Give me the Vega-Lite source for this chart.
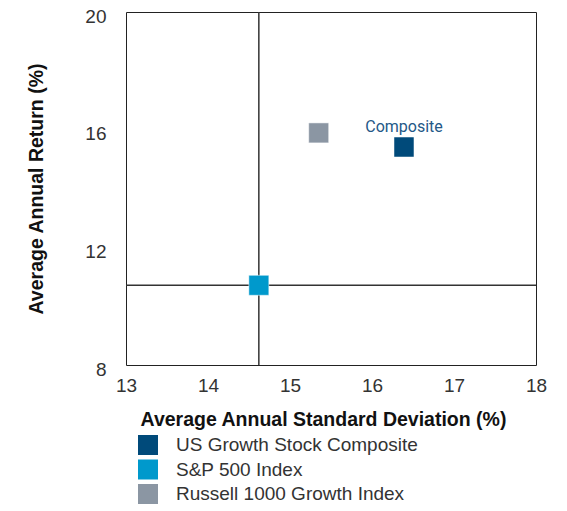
{
  "$schema": "https://vega.github.io/schema/vega-lite/v6.json",
  "width": 410,
  "height": 353,
  "autosize": {"type": "none"},
  "padding": {"left": 126, "top": 12, "right": 31, "bottom": 146},
  "background": "white",
  "config": {
    "view": {"stroke": "#222", "strokeWidth": 1},
    "font": "Liberation Sans",
    "axis": {"grid": false, "ticks": false, "domain": false, "labelFlush": false, "labelFont": "Liberation Sans", "labelFontSize": 19, "labelColor": "#333", "titleFont": "Liberation Sans", "titleFontWeight": "bold", "titleFontSize": 19.5, "titleColor": "#111"}
  },
  "data": {
    "values": [
      {"name": "US Growth Stock Composite", "sd": 16.39, "ret": 15.41, "label": "Composite"},
      {"name": "S&P 500 Index", "sd": 14.62, "ret": 10.71, "label": ""},
      {"name": "Russell 1000 Growth Index", "sd": 15.35, "ret": 15.89, "label": ""}
    ]
  },
  "layer": [
    {
      "transform": [{"filter": "datum.name === 'S&P 500 Index'"}],
      "mark": {"type": "rule", "color": "#333", "strokeWidth": 1.5},
      "encoding": {"x": {"field": "sd", "type": "quantitative"}}
    },
    {
      "transform": [{"filter": "datum.name === 'S&P 500 Index'"}],
      "mark": {"type": "rule", "color": "#333", "strokeWidth": 1.5},
      "encoding": {"y": {"field": "ret", "type": "quantitative"}}
    },
    {
      "mark": {"type": "point", "shape": "square", "filled": true, "opacity": 1, "size": 400, "stroke": "white", "strokeWidth": 0.5},
      "encoding": {
        "x": {"field": "sd", "type": "quantitative", "scale": {"domain": [13, 18], "nice": false, "zero": false},
              "axis": {"values": [13, 14, 15, 16, 17, 18], "format": "d", "labelPadding": 11, "title": "Average Annual Standard Deviation (%)", "titlePadding": 15, "titleX": 197}},
        "y": {"field": "ret", "type": "quantitative", "scale": {"domain": [8, 20], "nice": false, "zero": false},
              "axis": {"values": [8, 12, 16, 20], "format": "d", "labelPadding": 20, "labelOffset": 4, "title": "Average Annual Return (%)", "titlePadding": 38}},
        "color": {"field": "name", "type": "nominal",
          "scale": {"domain": ["US Growth Stock Composite", "S&P 500 Index", "Russell 1000 Growth Index"], "range": ["#004a7a", "#0099cc", "#8b96a3"]},
          "legend": {"title": null, "orient": "none", "legendX": 12, "legendY": 423, "symbolType": "square", "symbolSize": 400, "symbolStrokeWidth": 0, "symbolOpacity": 1, "labelFont": "Liberation Sans", "labelFontSize": 19, "labelColor": "#333", "labelOffset": 18, "labelLimit": 0, "rowPadding": 4.5}
        }
      }
    },
    {
      "transform": [{"filter": "datum.label !== ''"}],
      "mark": {"type": "text", "dy": -20, "fontSize": 16, "font": "Roboto", "fontWeight": 400, "color": "#245887"},
      "encoding": {
        "x": {"field": "sd", "type": "quantitative"},
        "y": {"field": "ret", "type": "quantitative"},
        "text": {"field": "label"}
      }
    }
  ]
}
